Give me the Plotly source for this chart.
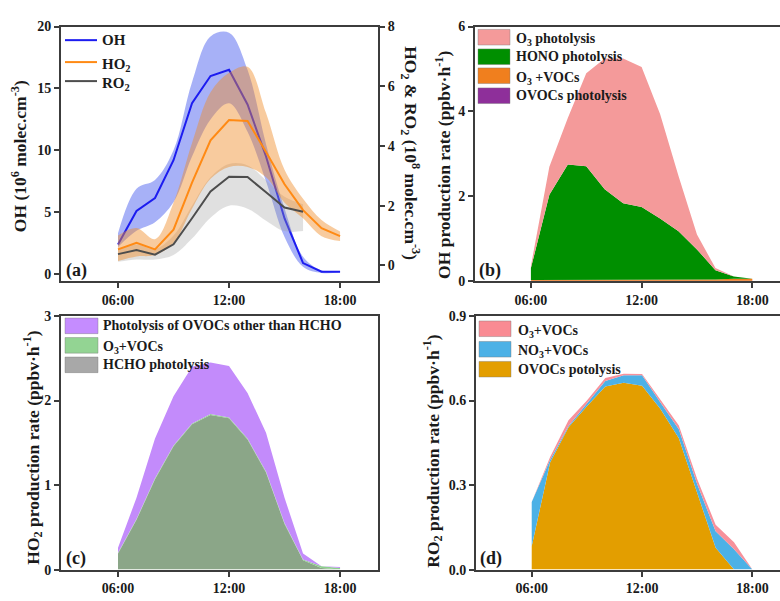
import plotly.graph_objects as go

# ---- time axis (hour of day) ----
HOURS = list(range(6, 19))
HOUR_TICKS = [6, 12, 18]
HOUR_LABELS = ["06:00", "12:00", "18:00"]

# ---- (a) radical concentrations ----
oh_mean = [2.4, 5.1, 6.15, 9.2, 13.8, 16.0, 16.5, 13.7, 9.5, 4.5, 0.9, 0.2, 0.2]
oh_upper = [3.3, 6.9, 7.6, 10.0, 15.5, 19.2, 19.5, 16.5, 10.5, 5.3, 1.4, 0.3, 0.25]
oh_lower = [2.2, 3.5, 4.2, 5.8, 9.5, 12.5, 13.8, 11.5, 7.5, 3.0, 0.6, 0.1, 0.15]

ho2_mean = [0.54, 0.76, 0.54, 1.2, 2.77, 4.19, 4.87, 4.84, 3.8, 2.72, 1.85, 1.25, 0.98]
ho2_upper = [1.0, 1.25, 0.88, 2.1, 4.1, 5.8, 6.45, 6.65, 5.1, 3.2, 2.23, 1.52, 1.14]
ho2_lower = [0.15, 0.3, 0.35, 0.75, 1.9, 2.9, 3.3, 3.3, 2.95, 2.1, 1.58, 0.98, 0.82]

RO2_HOURS = list(range(6, 17))
ro2_mean = [0.38, 0.52, 0.36, 0.71, 1.58, 2.48, 2.97, 2.96, 2.45, 1.94, 1.8]
ro2_upper = [0.55, 0.7, 0.55, 1.0, 2.0, 2.95, 3.4, 3.35, 2.85, 2.3, 2.05]
ro2_lower = [0.12, 0.2, 0.2, 0.35, 0.9, 1.6, 2.0, 1.9, 1.5, 1.15, 1.15]

# ---- (b) OH production pathways (ppbv/h) ----
oh_ovocs_phot = [0.005] * 13
oh_o3_vocs = [0.02, 0.02, 0.02, 0.02, 0.02, 0.02, 0.02, 0.02, 0.02, 0.02, 0.03, 0.05, 0.05]
oh_hono_phot = [0.28, 2.01, 2.72, 2.68, 2.14, 1.81, 1.72, 1.45, 1.15, 0.72, 0.22, 0.05, 0.0]
oh_o3_phot = [0.05, 0.66, 1.1, 2.19, 3.08, 3.41, 3.3, 2.46, 1.3, 0.35, 0.05, 0.0, 0.0]

# ---- (c) HO2 production pathways (ppbv/h) ----
ho2_hcho_phot = [0.19, 0.59, 1.07, 1.46, 1.72, 1.83, 1.79, 1.54, 1.15, 0.54, 0.11, 0.02, 0.0]
ho2_o3_vocs = [0.01, 0.01, 0.01, 0.01, 0.01, 0.01, 0.01, 0.01, 0.01, 0.01, 0.01, 0.02, 0.02]
ho2_other_ovocs = [0.06, 0.25, 0.47, 0.58, 0.67, 0.61, 0.61, 0.54, 0.46, 0.3, 0.07, 0.0, 0.01]

# ---- (d) RO2 production pathways (ppbv/h) ----
ro2_ovocs_phot = [0.083, 0.38, 0.505, 0.58, 0.65, 0.663, 0.653, 0.57, 0.466, 0.275, 0.078, 0.0, 0.0]
ro2_no3_vocs = [0.157, 0.01, 0.005, 0.01, 0.02, 0.027, 0.037, 0.023, 0.032, 0.028, 0.058, 0.072, 0.0]
ro2_o3_vocs = [0.0, 0.01, 0.02, 0.01, 0.01, 0.005, 0.004, 0.012, 0.014, 0.018, 0.023, 0.025, 0.0]

W, H = 780, 601
FONT = "Liberation Serif"
INK = "#1a1a1a"
AXIS = "#3c3c3c"


def fx(px):
    return px / W


def fy(py):
    return 1 - py / H


fig = go.Figure()

# ---------- (a) ----------
def band(x, lo, hi, color, yaxis):
    fig.add_trace(go.Scatter(x=x, y=lo, mode="lines", line=dict(width=0, shape="spline"),
                             hoverinfo="skip", showlegend=False, xaxis="x", yaxis=yaxis))
    fig.add_trace(go.Scatter(x=x, y=hi, mode="lines", line=dict(width=0, shape="spline"),
                             fill="tonexty", fillcolor=color, hoverinfo="skip",
                             showlegend=False, xaxis="x", yaxis=yaxis))


band(HOURS, oh_lower, oh_upper, "rgba(80,100,240,0.5)", "y")
fig.add_trace(go.Scatter(x=HOURS, y=oh_mean, mode="lines", name="OH",
                         line=dict(color="#1c1cf0", width=2), showlegend=False,
                         xaxis="x", yaxis="y"))
band(RO2_HOURS, ro2_lower, ro2_upper, "rgba(160,160,160,0.32)", "y2")
band(HOURS, ho2_lower, ho2_upper, "rgba(240,140,40,0.45)", "y2")
fig.add_trace(go.Scatter(x=HOURS, y=ho2_mean, mode="lines", name="HO2",
                         line=dict(color="#ff8a14", width=2), showlegend=False,
                         xaxis="x", yaxis="y2"))
fig.add_trace(go.Scatter(x=RO2_HOURS, y=ro2_mean, mode="lines", name="RO2",
                         line=dict(color="#4d4d4d", width=2), showlegend=False,
                         xaxis="x", yaxis="y2"))


def stack(x, y, color, name, xa, ya, group):
    fig.add_trace(go.Scatter(x=x, y=y, mode="lines", name=name, stackgroup=group,
                             line=dict(width=0, color=color), fillcolor=color,
                             showlegend=False, xaxis=xa, yaxis=ya))


# ---------- (b) ----------
B_COLORS = {"pink": "#f49a9a", "green": "#008f00", "orange": "#f07f1e", "purple": "#8e2f9a"}
stack(HOURS, oh_ovocs_phot, B_COLORS["purple"], "OVOCs photolysis", "x2", "y3", "b")
stack(HOURS, oh_o3_vocs, B_COLORS["orange"], "O3 +VOCs", "x2", "y3", "b")
stack(HOURS, oh_hono_phot, B_COLORS["green"], "HONO photolysis", "x2", "y3", "b")
stack(HOURS, oh_o3_phot, B_COLORS["pink"], "O3 photolysis", "x2", "y3", "b")

# ---------- (c) ----------
stack(HOURS, ho2_hcho_phot, "#8ba688", "HCHO photolysis", "x3", "y4", "c")
stack(HOURS, ho2_o3_vocs, "#8dd08d", "O3+VOCs", "x3", "y4", "c")
stack(HOURS, ho2_other_ovocs, "#c38bfb", "Photolysis of OVOCs other than HCHO", "x3", "y4", "c")

# ---------- (d) ----------
stack(HOURS, ro2_ovocs_phot, "#e39e00", "OVOCs potolysis", "x4", "y5", "d")
stack(HOURS, ro2_no3_vocs, "#4cb1e6", "NO3+VOCs", "x4", "y5", "d")
stack(HOURS, ro2_o3_vocs, "#f7919b", "O3+VOCs", "x4", "y5", "d")

# ---------- axes ----------
tickfont = dict(family=FONT, size=14, color=INK, weight="bold")
common = dict(showline=True, linecolor=AXIS, linewidth=2, ticks="outside", ticklen=5,
              tickwidth=1.5, tickcolor=AXIS, showgrid=False, zeroline=False,
              tickfont=tickfont)
xcommon = dict(common, tickvals=HOUR_TICKS, ticktext=HOUR_LABELS, mirror=True)

fig.update_layout(
    xaxis=dict(xcommon, domain=[fx(61), fx(378)], range=[2.92, 20.05], anchor="y"),
    yaxis=dict(common, domain=[fy(281), fy(20)], range=[-0.55, 20], anchor="x",
               tickvals=[0, 5, 10, 15, 20]),
    yaxis2=dict(common, overlaying="y", side="right", anchor="x", range=[-0.52, 8],
                tickvals=[0, 2, 4, 6, 8]),
    xaxis2=dict(xcommon, domain=[fx(475), 1], range=[2.97, 19.5], anchor="y3"),
    yaxis3=dict(common, domain=[fy(281), fy(20)], range=[0, 6], anchor="x2",
                tickvals=[0, 2, 4, 6]),
    xaxis3=dict(xcommon, domain=[fx(61), fx(378)], range=[2.92, 20.05], anchor="y4"),
    yaxis4=dict(common, domain=[fy(577), fy(317)], range=[0, 3], anchor="x3",
                tickvals=[0, 1, 2, 3], mirror=True),
    xaxis4=dict(xcommon, domain=[fx(476), 1], range=[2.97, 19.5], anchor="y5"),
    yaxis5=dict(common, domain=[fy(577), fy(317)], range=[0, 0.9], anchor="x4",
                tickvals=[0, 0.3, 0.6, 0.9], tickformat=".1f"),
)

# ---------- legends, titles, panel labels ----------
shapes = []
annotations = []


def text(x, y, s, size, anchor="left", angle=0):
    annotations.append(dict(x=fx(x), y=fy(y), xref="paper", yref="paper", text=s,
                            showarrow=False, xanchor=anchor, yanchor="middle",
                            textangle=angle,
                            font=dict(family=FONT, size=size, color=INK, weight="bold")))


def swatch(x0, x1, yc, color, h=16):
    shapes.append(dict(type="rect", xref="paper", yref="paper",
                       x0=fx(x0), x1=fx(x1), y0=fy(yc + h / 2), y1=fy(yc - h / 2),
                       fillcolor=color, line=dict(width=0.8, color="rgba(120,120,120,0.5)")))


# (a) legend
for yc, col, lab in [(34, "#1c1cf0", "OH"), (56.5, "#ff8a14", "HO<sub>2</sub>"),
                     (76, "#4d4d4d", "RO<sub>2</sub>")]:
    shapes.append(dict(type="line", xref="paper", yref="paper", x0=fx(65), x1=fx(97),
                       y0=fy(yc), y1=fy(yc), line=dict(color=col, width=2)))
    text(100, yc + (2.5 if "sub" in lab else 0), lab, 15)

# (b) legend
for yc, col, lab in [(31, B_COLORS["pink"], "O<sub>3</sub> photolysis"),
                     (51, B_COLORS["green"], "HONO photolysis"),
                     (70.5, B_COLORS["orange"], "O<sub>3</sub> +VOCs"),
                     (91, B_COLORS["purple"], "OVOCs photolysis")]:
    swatch(478, 510, yc, col)
    text(514, yc + (2.5 if "sub" in lab else 0), lab, 14)

# (c) legend
for yc, col, lab in [(327, "#c58cff", "Photolysis of OVOCs other than HCHO"),
                     (347, "#93d493", "O<sub>3</sub>+VOCs"),
                     (367, "#a8a8a8", "HCHO photolysis")]:
    swatch(65, 98, yc, col)
    text(101, yc + (2.5 if "sub" in lab else 0), lab, 14)

# (d) legend
for yc, col, lab in [(330, "#f98b93", "O<sub>3</sub>+VOCs"),
                     (351, "#4cb1e6", "NO<sub>3</sub>+VOCs"),
                     (371.5, "#e39e00", "OVOCs potolysis")]:
    swatch(479, 511, yc, col)
    text(516, yc + (2.5 if "sub" in lab else 0), lab, 14)

# panel labels
text(64, 270, "(a)", 18)
text(477, 270, "(b)", 18)
text(64, 566, "(c)", 18)
text(478, 566, "(d)", 18)

# axis titles
text(19, 153, "OH (10<sup>6</sup> molec.cm<sup>-3</sup>)", 17.5, anchor="center", angle=-90)
text(411, 150, "HO<sub>2</sub> &amp; RO<sub>2</sub> (10<sup>8</sup> molec.cm<sup>-3</sup>)", 17.5,
     anchor="center", angle=90)
text(443, 162, "OH production rate (ppbv·h<sup>-1</sup>)", 17.5, anchor="center", angle=-90)
text(33, 452, "HO<sub>2</sub> production rate (ppbv·h<sup>-1</sup>)", 17.5, anchor="center",
     angle=-90)
text(433, 455, "RO<sub>2</sub> production rate (ppbv·h<sup>-1</sup>)", 17.5, anchor="center",
     angle=-90)

fig.update_layout(
    width=W, height=H, margin=dict(l=0, r=0, t=0, b=0),
    paper_bgcolor="white", plot_bgcolor="white",
    font=dict(family=FONT, size=14, color=INK, weight="bold"),
    showlegend=False, shapes=shapes, annotations=annotations,
)

fig.write_html("out.html")
